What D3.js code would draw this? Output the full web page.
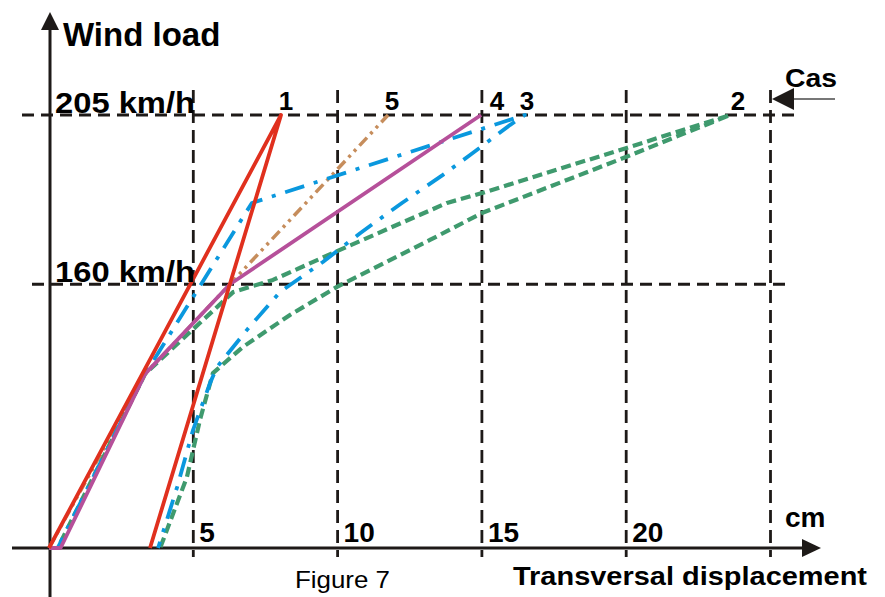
<!DOCTYPE html>
<html><head><meta charset="utf-8">
<script src="https://cdn.jsdelivr.net/npm/d3@7"></script>
<style>
body{margin:0;background:#fff}
svg{display:block}
text{font-family:"Liberation Sans",Arial,Helvetica,sans-serif;fill:#000}
</style>
</head><body>
<svg id="c" width="885" height="597"></svg>
<script>
// ---- data (x: transversal displacement in cm, y: wind speed in km/h) ----
const xTicks = [5, 10, 15, 20, 25];
const xTickLabels = ["5", "10", "15", "20"];
const yTicks = [160, 205];
const yTickLabels = ["160 km/h", "205 km/h"];
const caseNames = ["1", "2", "3", "4", "5"];

const case1 = [[0,0],[8.04,205],[3.50,0]];
const case2 = [[0,0],[0.3,0],[3.33,130],[6.38,157.6],[7.76,161.3],[10.08,170.1],[13.79,183.0],[15.0,185.6],[19.99,197.0],[23.6,205],
               [19.99,194.8],[15.0,180.3],[13.2,172.9],[9.98,159.2],[8.35,150.4],[6.72,139.7],[5.68,130.3],[5.23,111.5],[4.78,83.0],[3.85,0]];
const case3 = [[0,0],[0.3,0],[3.33,130],[7.03,183.0],[16.49,205],
               [15.97,202.6],[14.59,195.3],[13.65,190.3],[12.23,183.0],[10.78,174.8],[9.49,166.6],[8.00,157.6],[6.86,145.5],[5.82,132.5],[5.58,126.5],[4.99,107.0],[4.44,76.9],[3.78,0]];
const case4 = [[0,0],[0.4,0],[3.33,130],[6.27,160],[14.97,205]];
const case5 = [[0,0],[3.33,130],[6.27,160],[11.75,205]];

// ---- styles ----
const styles = {
  "5": {color:"#c68d5c", width:3.5, dash:"11,5,3,5,3,5", labelDx:4},
  "2": {color:"#3f9a6e", width:4.2, dash:"10,5", labelDx:8},
  "3": {color:"#0a98de", width:3.8, dash:"20,10,4,10", labelDx:2},
  "4": {color:"#b6509a", width:3.8, dash:null, labelDx:16},
  "1": {color:"#e0301e", width:3.8, dash:null, labelDx:5}
};
const seriesData = {"1":case1,"2":case2,"3":case3,"4":case4,"5":case5};
const drawOrder = ["5","2","3","4","1"];

const svg = d3.select("#c");
const x = d3.scaleLinear().domain([0,25]).range([49,770.5]);
const y = d3.scalePow().exponent(2).domain([0,205]).range([548,115]);
const ink = "#1e1a18";

// grid
const grid = svg.append("g");
grid.selectAll("line.v").data(xTicks).join("line")
  .attr("x1", d=>x(d)).attr("x2", d=>x(d)).attr("y1", 90).attr("y2", 557)
  .attr("stroke", ink).attr("stroke-width", 2.8).attr("stroke-dasharray","13,7");
const hStart = {160:32, 205:22}, hEnd = {160:785, 205:795};
grid.selectAll("line.h").data(yTicks).join("line")
  .attr("x1", d=>hStart[d]).attr("x2", d=>hEnd[d]).attr("y1", d=>y(d)).attr("y2", d=>y(d))
  .attr("stroke", ink).attr("stroke-width", 2.8).attr("stroke-dasharray","12,7");

// axes
svg.append("line").attr("x1",50).attr("x2",50).attr("y1",597).attr("y2",26)
  .attr("stroke",ink).attr("stroke-width",3);
svg.append("path").attr("d","M50,12 L41,30 L59,30 Z").attr("fill",ink);
svg.append("line").attr("x1",12).attr("x2",806).attr("y1",548).attr("y2",548)
  .attr("stroke",ink).attr("stroke-width",3);
svg.append("path").attr("d","M821,548 L802,539 L802,557 Z").attr("fill",ink);

// series
const line = d3.line().x(d=>x(d[0])).y(d=>y(d[1]));
drawOrder.forEach(k=>{
  const s = styles[k];
  svg.append("path").datum(seriesData[k]).attr("d", line)
    .attr("fill","none").attr("stroke", s.color).attr("stroke-width", s.width)
    .attr("stroke-linejoin","round")
    .attr("stroke-dasharray", s.dash);
});

// series labels at the top of each case
caseNames.forEach(k=>{
  const top = seriesData[k].reduce((a,b)=> b[1]>a[1]||(b[1]===a[1]&&b[0]>a[0]) ? b : a);
  svg.append("text").attr("x", x(top[0]) + styles[k].labelDx).attr("y", 110)
    .attr("text-anchor","middle").attr("font-weight","bold").attr("font-size",26).text(k);
});

// y labels
svg.append("text").attr("x",63).attr("y",46).attr("font-weight","bold").attr("font-size",33).text("Wind load");
yTicks.forEach((t,i)=>{
  svg.append("text").attr("x",55).attr("y", y(t)-2).attr("font-weight","bold").attr("font-size",30)
    .attr("textLength",140).attr("lengthAdjust","spacingAndGlyphs").text(yTickLabels[i]);
});

// x tick labels
xTickLabels.forEach((lab,i)=>{
  svg.append("text").attr("x", x(xTicks[i])+6).attr("y",542).attr("font-weight","bold").attr("font-size",28).text(lab);
});
svg.append("text").attr("x",785).attr("y",527).attr("font-weight","bold").attr("font-size",28).text("cm");
svg.append("text").attr("x",513).attr("y",585).attr("font-weight","bold").attr("font-size",26)
  .attr("textLength",354).attr("lengthAdjust","spacingAndGlyphs").text("Transversal displacement");
svg.append("text").attr("x",295).attr("y",588).attr("font-size",24)
  .attr("textLength",95).attr("lengthAdjust","spacingAndGlyphs").text("Figure 7");

// "Cas" pointer
svg.append("line").attr("x1",792).attr("x2",835).attr("y1",99).attr("y2",99).attr("stroke","#777").attr("stroke-width",2);
svg.append("path").attr("d","M772,99 L794,88 L794,110 Z").attr("fill",ink);
svg.append("text").attr("x",785).attr("y",87).attr("font-weight","bold").attr("font-size",25)
  .attr("textLength",52).attr("lengthAdjust","spacingAndGlyphs").text("Cas");
</script>
</body></html>
